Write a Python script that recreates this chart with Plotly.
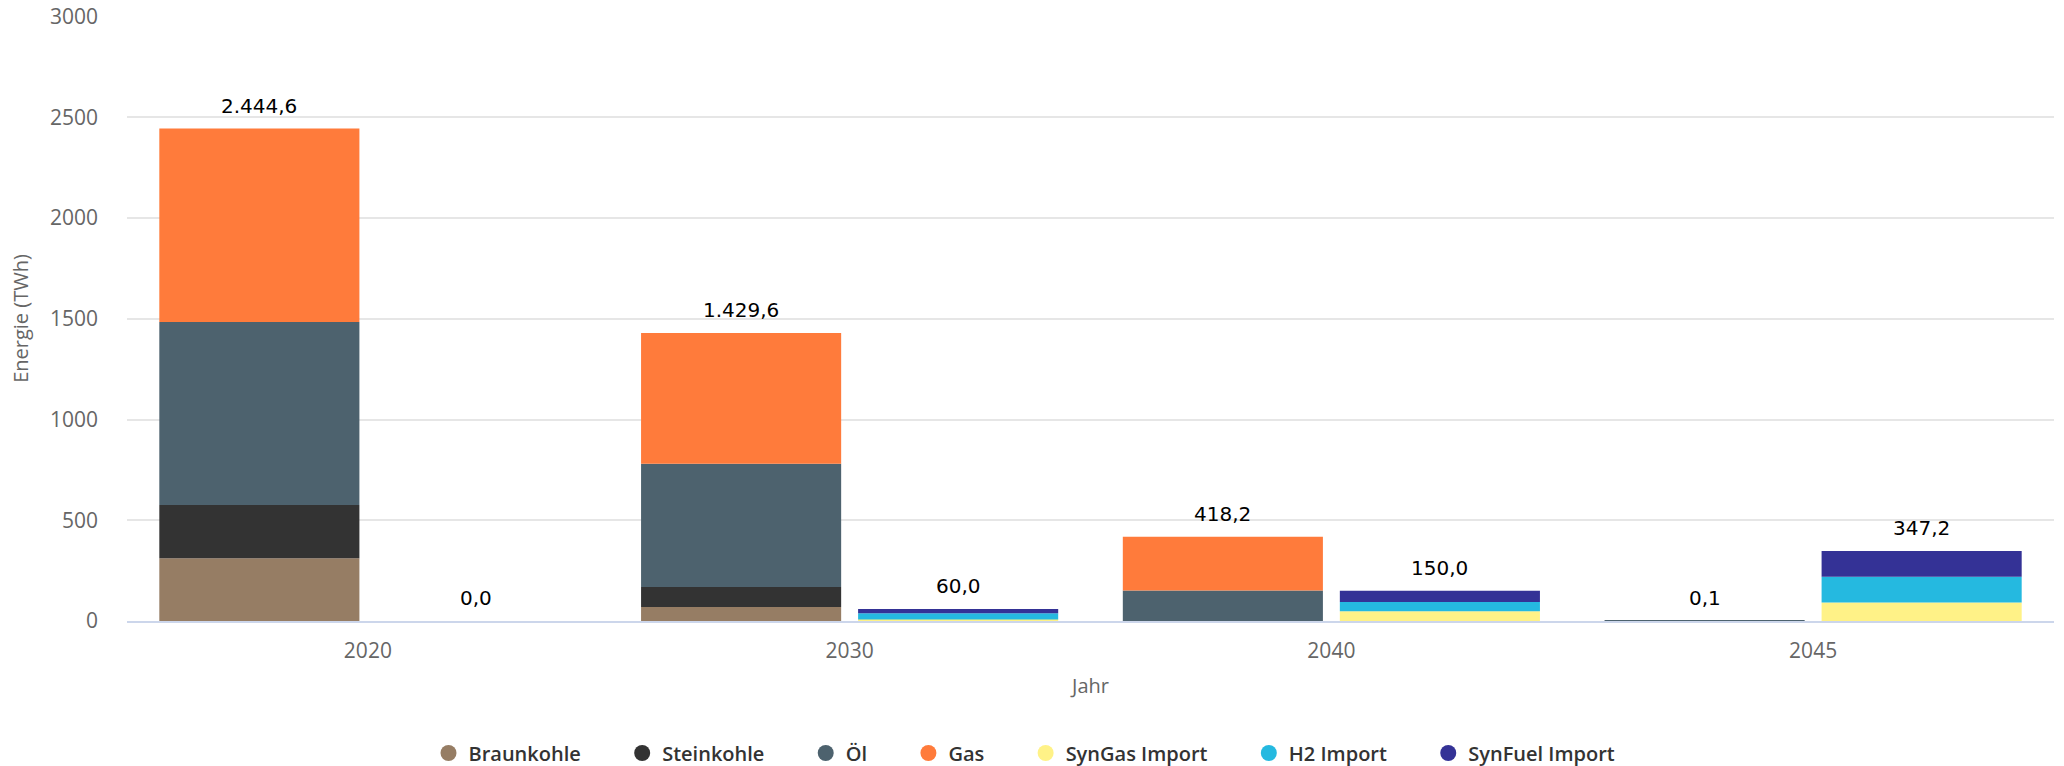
import plotly.graph_objects as go

years = ["2020", "2030", "2040", "2045"]

# Fossil stack
braunkohle = [311.0, 70.0, 0.0, 0.0]
steinkohle = [265.0, 99.0, 0.0, 0.0]
oel = [908.0, 612.0, 152.0, 0.1]
gas = [960.6, 648.6, 266.2, 0.0]

# Import stack
syngas = [0.0, 8.0, 49.0, 92.0]
h2 = [0.0, 31.0, 45.0, 127.6]
synfuel = [0.0, 21.0, 56.0, 127.6]

series = [
    ("Braunkohle", braunkohle, "#967d64", "fossil"),
    ("Steinkohle", steinkohle, "#333333", "fossil"),
    ("Öl", oel, "#4d626e", "fossil"),
    ("Gas", gas, "#ff7b3b", "fossil"),
    ("SynGas Import", syngas, "#fff287", "import"),
    ("H2 Import", h2, "#25b9e0", "import"),
    ("SynFuel Import", synfuel, "#343296", "import"),
]

BARGAP = 0.099
BARGROUPGAP = 0.078
W, H = 2064, 766
PLOT_LEFT, PLOT_RIGHT = 127, 2054
PLOT_TOP, PLOT_BOTTOM = 16, 621


def de_fmt(v):
    s = f"{v:,.1f}"
    return s.replace(",", "X").replace(".", ",").replace("X", ".")


fig = go.Figure()
bases = {"fossil": [0.0] * len(years), "import": [0.0] * len(years)}
for name, vals, color, grp in series:
    fig.add_trace(go.Bar(
        x=years, y=vals, base=list(bases[grp]), name=name,
        offsetgroup=grp, marker=dict(color=color, line=dict(width=0)),
        showlegend=False, hoverinfo="skip",
    ))
    bases[grp] = [b + v for b, v in zip(bases[grp], vals)]

# legend entries with circle markers
PAD = "\u00a0" * 7
for name, vals, color, grp in series:
    fig.add_trace(go.Scatter(
        x=[None], y=[None], mode="markers", name=name + PAD,
        marker=dict(color=color, size=17, symbol="circle"),
    ))

slot = (1 - BARGAP) / 2
offsets = {"fossil": -slot / 2, "import": slot / 2}
for grp in ("fossil", "import"):
    for i, tot in enumerate(bases[grp]):
        fig.add_annotation(
            x=i + offsets[grp], y=tot, xref="x", yref="y",
            text=de_fmt(tot), showarrow=False, yanchor="bottom", yshift=9,
            font=dict(family="DejaVu Sans", size=20, color="#000000"),
        )

plot_h = PLOT_BOTTOM - PLOT_TOP
plot_w = PLOT_RIGHT - PLOT_LEFT
legend_y = -(753 - PLOT_BOTTOM) / plot_h
legend_x = 0.5 - 48 / plot_w

fig.update_layout(
    barmode="group", bargap=BARGAP, bargroupgap=BARGROUPGAP,
    width=W, height=H,
    margin=dict(l=PLOT_LEFT, r=W - PLOT_RIGHT, t=PLOT_TOP, b=H - PLOT_BOTTOM, autoexpand=False),
    plot_bgcolor="white", paper_bgcolor="white",
    font=dict(family="Open Sans", size=20, color="#666666"),
    legend=dict(
        orientation="h", x=legend_x, xanchor="center", y=legend_y, yanchor="middle",
        font=dict(family="Open Sans", size=20, color="#333333", weight=600),
        itemsizing="trace", traceorder="normal",
    ),
    xaxis=dict(
        type="category", showline=True, linecolor="#ccd6eb", linewidth=1.5,
        showgrid=False, ticks="", tickfont=dict(size=21, color="#666666"),
        ticklabelstandoff=10,
        title=dict(text="Jahr", font=dict(size=20, color="#666666"), standoff=16),
    ),
    yaxis=dict(
        range=[0, 3003], tick0=0, dtick=500, showgrid=True, gridcolor="#e6e6e6",
        gridwidth=1.5, zeroline=False, showline=False, ticks="",
        tickfont=dict(size=21, color="#666666"), ticklabelstandoff=28,
        title=dict(text="Energie (TWh)", font=dict(size=20, color="#666666"), standoff=15),
    ),
)

fig.write_html(
    "out.html",
    config={"displayModeBar": False},
    post_script="document.body.style.margin='0';document.body.style.padding='0';",
)
